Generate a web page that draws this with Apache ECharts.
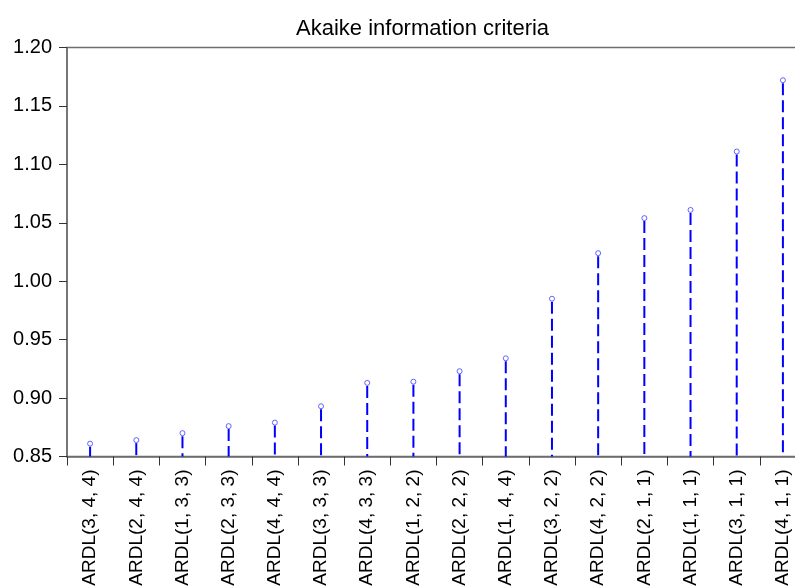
<!DOCTYPE html>
<html>
<head>
<meta charset="utf-8">
<script src="https://cdn.jsdelivr.net/npm/echarts@6/dist/echarts.min.js"></script>
<style>
  html, body { margin: 0; padding: 0; background: #fff; }
  #chart { width: 795px; height: 587px; }
</style>
</head>
<body>
<div id="chart"></div>
<script>
// ARDL model specifications, ordered by their Akaike information criterion
const categories = [
  'ARDL(3, 4, 4)', 'ARDL(2, 4, 4)', 'ARDL(1, 3, 3)', 'ARDL(2, 3, 3)',
  'ARDL(4, 4, 4)', 'ARDL(3, 3, 3)', 'ARDL(4, 3, 3)', 'ARDL(1, 2, 2)',
  'ARDL(2, 2, 2)', 'ARDL(1, 4, 4)', 'ARDL(3, 2, 2)', 'ARDL(4, 2, 2)',
  'ARDL(2, 1, 1)', 'ARDL(1, 1, 1)', 'ARDL(3, 1, 1)', 'ARDL(4, 1, 1)'
];
const aicValues = [
  0.861, 0.864, 0.870, 0.876, 0.879, 0.893, 0.913, 0.914,
  0.923, 0.934, 0.985, 1.024, 1.054, 1.061, 1.111, 1.172
];
const yMin = 0.85;
const yMax = 1.20;
const yStep = 0.05;

const points = categories.map((c, i) => [i, aicValues[i]]);

const chart = echarts.init(document.getElementById('chart'), null, { renderer: 'canvas' });

const axisColor = '#6e6e6e';
const font = 'Liberation Sans, Arial, sans-serif';

chart.setOption({
  animation: false,
  backgroundColor: '#ffffff',
  title: {
    text: 'Akaike information criteria',
    left: 291,
    top: 13,
    textStyle: { fontFamily: font, fontSize: 22, fontWeight: 'normal', color: '#000' }
  },
  grid: {
    left: 67,
    top: 47.5,
    width: 739,
    height: 409,
    outerBoundsMode: 'none',
    containLabel: false,
    show: true,
    borderColor: axisColor,
    borderWidth: 1.5,
    backgroundColor: 'transparent'
  },
  xAxis: {
    type: 'category',
    data: categories,
    boundaryGap: true,
    axisLine: { show: true, lineStyle: { color: axisColor, width: 1.5 } },
    axisTick: { show: true, length: 9, lineStyle: { color: '#333', width: 1 } },
    axisLabel: {
      rotate: 90,
      margin: 13,
      interval: 0,
      fontFamily: font,
      fontSize: 19,
      color: '#000'
    },
    splitLine: { show: false }
  },
  yAxis: {
    type: 'value',
    min: yMin,
    max: yMax,
    interval: yStep,
    axisLine: { show: true, lineStyle: { color: axisColor, width: 1.5 } },
    axisTick: { show: true, length: 8, lineStyle: { color: '#333', width: 1 } },
    axisLabel: {
      margin: 15,
      fontFamily: font,
      fontSize: 20,
      color: '#000',
      formatter: v => v.toFixed(2)
    },
    splitLine: { show: false }
  },
  series: [
    {
      // dashed stems from each value down to the axis floor
      type: 'custom',
      data: points,
      renderItem: function (params, api) {
        const idx = api.value(0);
        const top = api.coord([idx, api.value(1)]);
        const base = api.coord([idx, yMin]);
        return {
          type: 'line',
          shape: { x1: top[0], y1: top[1] + 3, x2: base[0], y2: base[1] },
          style: { stroke: '#0000ff', lineWidth: 2, lineDash: [12, 5], fill: null }
        };
      },
      z: 2
    },
    {
      // small open circles at each stem tip
      type: 'scatter',
      data: points,
      symbol: 'circle',
      symbolSize: 5,
      itemStyle: { color: '#ffffff', borderColor: '#4040ff', borderWidth: 1 },
      z: 3
    }
  ]
});
</script>
</body>
</html>
